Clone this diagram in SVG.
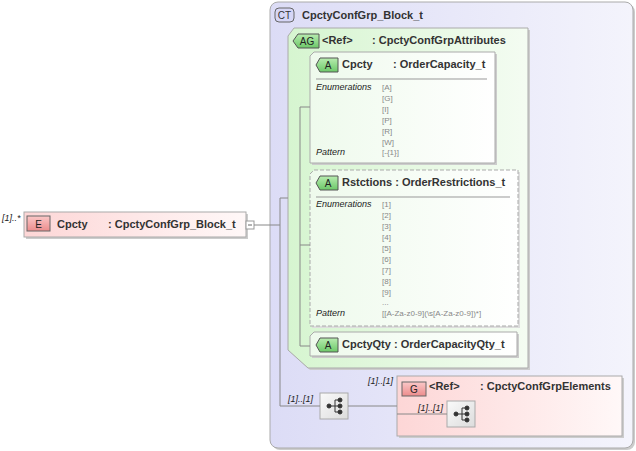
<svg xmlns="http://www.w3.org/2000/svg" width="636" height="451" viewBox="0 0 636 451">
<defs>
<linearGradient id="ct" x1="0" y1="0" x2="1" y2="0"><stop offset="0" stop-color="#dcdcf6"/><stop offset="1" stop-color="#f4f4fc"/></linearGradient>
<linearGradient id="ag" x1="0" y1="0" x2="1" y2="0"><stop offset="0" stop-color="#d6f5d0"/><stop offset="1" stop-color="#f4fcf2"/></linearGradient>
<linearGradient id="el" x1="0" y1="0" x2="1" y2="0"><stop offset="0" stop-color="#fdd6d6"/><stop offset="1" stop-color="#fff8f8"/></linearGradient>
<linearGradient id="at" x1="0" y1="0" x2="1" y2="0"><stop offset="0" stop-color="#eefaec"/><stop offset="1" stop-color="#ffffff"/></linearGradient>
<linearGradient id="bg" x1="0" y1="0" x2="0" y2="1"><stop offset="0" stop-color="#b8ecb0"/><stop offset="1" stop-color="#6cc868"/></linearGradient>
<linearGradient id="br" x1="0" y1="0" x2="0" y2="1"><stop offset="0" stop-color="#fbc8c8"/><stop offset="1" stop-color="#ec8c8c"/></linearGradient>
<linearGradient id="ic" x1="0" y1="0" x2="1" y2="1"><stop offset="0" stop-color="#fafafa"/><stop offset="1" stop-color="#dcdcdc"/></linearGradient>
<g id="seq"><rect width="28" height="26" fill="url(#ic)" stroke="#aaa"/><g fill="#333" stroke="#333"><circle cx="9" cy="13" r="2"/><line x1="9" y1="13" x2="15" y2="13"/><line x1="15" y1="7" x2="15" y2="19"/><line x1="15" y1="7" x2="20" y2="7"/><line x1="15" y1="13" x2="20" y2="13"/><line x1="15" y1="19" x2="20" y2="19"/><circle cx="20" cy="7" r="2"/><circle cx="20" cy="13" r="2"/><circle cx="20" cy="19" r="2"/></g></g>
</defs>
<style>
text{font-family:"Liberation Sans",Arial,sans-serif}
.b{font-size:11px;font-weight:bold;fill:#333}
.s{font-size:9px;font-style:italic;fill:#222}
.v{font-size:8px;fill:#888}
.c{font-size:9px;font-style:italic;fill:#222}
.ln{stroke:#888;fill:none}
.bx{stroke:#aaa}
</style>
<g id="ct">
<rect x="272" y="4" width="363" height="446" rx="8" fill="#ccc"/>
<rect x="270" y="2" width="363" height="446" rx="8" fill="url(#ct)" stroke="#aaa"/>
<rect x="275" y="8" width="19" height="14" rx="4" fill="#d6d6f6" stroke="#666"/>
<text x="284.5" y="19" text-anchor="middle" font-size="10" fill="#333">CT</text>
<text x="302" y="19" class="b">CpctyConfGrp_Block_t</text>
</g>
<g id="ag">
<path d="M296,30 H530 V370 H310 L290,352 V38 Z" fill="#ccc"/>
<path d="M294,28 H528 V368 H308 L288,350 V36 Z" fill="url(#ag)" stroke="#aaa"/>
<path d="M298,34 H319 V48 H298 L293,41 Z" fill="url(#bg)" stroke="#555"/>
<text x="307" y="45" text-anchor="middle" font-size="10" fill="#222">AG</text>
<text x="322" y="44" class="b">&lt;Ref&gt;</text>
<text x="372" y="44" class="b">: CpctyConfGrpAttributes</text>
</g>
<g id="cpcty">
<rect x="312" y="54" width="185" height="111" fill="#ccc"/>
<path d="M314,52 H495 V163 H310 V56 Z" fill="url(#at)" stroke="#aaa"/>
<path d="M320,58 H338 V72 H320 L316,65 Z" fill="url(#bg)" stroke="#555"/>
<text x="328" y="69" text-anchor="middle" font-size="10" fill="#222">A</text>
<text x="342" y="68" class="b">Cpcty</text>
<text x="393" y="68" class="b">: OrderCapacity_t</text>
<line x1="316" y1="79" x2="487" y2="79" stroke="#999"/>
<text x="316" y="90" class="s">Enumerations</text>
<g class="v"><text x="382" y="90">[A]</text><text x="382" y="101">[G]</text><text x="382" y="112">[I]</text><text x="382" y="123">[P]</text><text x="382" y="134">[R]</text><text x="382" y="145">[W]</text><text x="382" y="155">[-{1}]</text></g>
<text x="316" y="155" class="s">Pattern</text>
</g>
<g id="rstctions">
<rect x="312" y="172" width="208" height="156" fill="#ddd"/>
<path d="M314,170 H518 V326 H310 V174 Z" fill="url(#at)" stroke="#aaa" stroke-dasharray="4,2"/>
<path d="M320,176 H338 V190 H320 L316,183 Z" fill="url(#bg)" stroke="#555"/>
<text x="328" y="187" text-anchor="middle" font-size="10" fill="#222">A</text>
<text x="342" y="186" class="b">Rstctions : OrderRestrictions_t</text>
<line x1="316" y1="197" x2="510" y2="197" stroke="#999"/>
<text x="316" y="207" class="s">Enumerations</text>
<g class="v"><text x="382" y="207">[1]</text><text x="382" y="218">[2]</text><text x="382" y="229">[3]</text><text x="382" y="240">[4]</text><text x="382" y="251">[5]</text><text x="382" y="262">[6]</text><text x="382" y="273">[7]</text><text x="382" y="284">[8]</text><text x="382" y="295">[9]</text><text x="382" y="305">...</text><text x="382" y="316">[[A-Za-z0-9](\s[A-Za-z0-9])*]</text></g>
<text x="316" y="316" class="s">Pattern</text>
</g>
<g id="cpctyqty">
<rect x="312" y="334" width="207" height="24" fill="#ccc"/>
<path d="M314,332 H517 V356 H310 V336 Z" fill="url(#at)" stroke="#aaa"/>
<path d="M320,338 H338 V352 H320 L316,345 Z" fill="url(#bg)" stroke="#555"/>
<text x="328" y="349" text-anchor="middle" font-size="10" fill="#222">A</text>
<text x="342" y="348" class="b">CpctyQty : OrderCapacityQty_t</text>
</g>
<g id="element">
<rect x="26" y="214" width="222" height="25" fill="#ccc"/>
<rect x="24" y="212" width="222" height="25" fill="url(#el)" stroke="#aaa"/>
<rect x="27" y="216" width="23" height="15" fill="url(#br)" stroke="#666"/>
<text x="38.5" y="228" text-anchor="middle" font-size="10" fill="#222">E</text>
<text x="57" y="228" class="b">Cpcty</text>
<text x="108" y="228" class="b">: CpctyConfGrp_Block_t</text>
<rect x="246" y="221" width="8" height="8" fill="#fff" stroke="#999"/>
<line x1="248" y1="225" x2="252" y2="225" stroke="#666"/>
<text x="2" y="221" class="c">[1]..*</text>
</g>
<g id="seq1"><use href="#seq" x="320" y="393"/><text x="288" y="402" class="c">[1]..[1]</text></g>
<g id="grp">
<rect x="399" y="378" width="225" height="60" fill="#ccc"/>
<rect x="397" y="376" width="225" height="60" fill="url(#el)" stroke="#aaa"/>
<rect x="402" y="382" width="24" height="14" fill="url(#br)" stroke="#666"/>
<text x="414" y="393" text-anchor="middle" font-size="10" fill="#222">G</text>
<text x="429" y="390" class="b">&lt;Ref&gt;</text>
<text x="480" y="390" class="b">: CpctyConfGrpElements</text>
<text x="368" y="384" class="c">[1]..[1]</text>
<use href="#seq" x="447" y="401"/>
<text x="418" y="411" class="c">[1]..[1]</text>
</g>
<g id="connectors" class="ln">
<path d="M254,225 H280 M280,198 V406 H320 M280,198 H288"/>
<path d="M300,107 V346 H310 M300,107 H310 M300,245 H310"/>
<path d="M348,406 H397 M397,414 H447"/>
</g>
</svg>
